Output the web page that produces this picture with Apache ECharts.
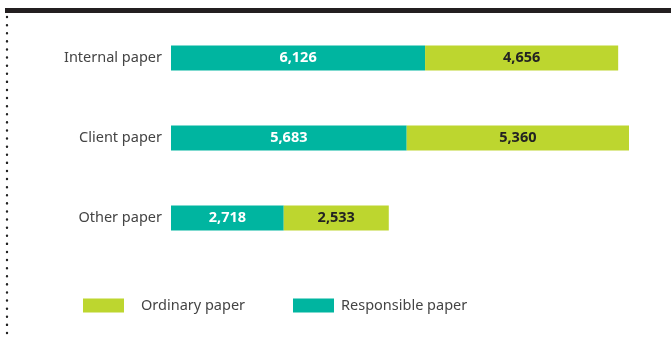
<!DOCTYPE html>
<html>
<head>
<meta charset="utf-8">
<script src="https://cdn.jsdelivr.net/npm/echarts@6/dist/echarts.min.js"></script>
<style>
  html, body { margin: 0; padding: 0; background: #fff; }
  #chart { width: 671px; height: 337px; }
</style>
</head>
<body>
<div id="chart"></div>
<script>
// Paper usage by category, split into responsible and ordinary paper
const categories = ['Internal paper', 'Client paper', 'Other paper'];
const responsibleValues = [6126, 5683, 2718];
const ordinaryValues = [4656, 5360, 2533];
const seriesNames = ['Responsible paper', 'Ordinary paper'];

const TEAL = '#00B5A0';
const LIME = '#BDD62F';
const FONT = '"Noto Sans", "Open Sans", sans-serif';

const chart = echarts.init(document.getElementById('chart'));

chart.setOption({
  animation: false,
  grid: { left: 171, right: 42, top: 18, height: 240 },
  xAxis: {
    type: 'value',
    min: 0,
    max: 11043,
    show: false
  },
  yAxis: {
    type: 'category',
    data: categories,
    inverse: true,
    axisLine: { show: false },
    axisTick: { show: false },
    axisLabel: {
      margin: 9,
      color: '#444',
      fontFamily: FONT,
      fontSize: 14.5
    }
  },
  legend: [
    {
      left: 83,
      top: 298,
      padding: 0,
      data: [seriesNames[1]],
      itemWidth: 41,
      itemHeight: 14,
      icon: 'rect',
      textStyle: { color: '#444', fontFamily: FONT, fontSize: 14.5, padding: [0, 0, 0, 12] }
    },
    {
      left: 293,
      top: 298,
      padding: 0,
      data: [seriesNames[0]],
      itemWidth: 41,
      itemHeight: 14,
      icon: 'rect',
      textStyle: { color: '#444', fontFamily: FONT, fontSize: 14.5, padding: [0, 0, 0, 2] }
    }
  ],
  graphic: [
    {
      type: 'rect',
      shape: { x: 5, y: 8, width: 666, height: 5 },
      style: { fill: '#231F20' },
      silent: true
    },
    {
      type: 'line',
      shape: { x1: 7, y1: 17, x2: 7, y2: 337 },
      style: { stroke: '#222', lineWidth: 2.4, lineDash: [0.1, 8], lineCap: 'round' },
      silent: true
    }
  ],
  series: [
    {
      name: seriesNames[0],
      type: 'bar',
      stack: 'paper',
      data: responsibleValues,
      barWidth: 25,
      itemStyle: { color: TEAL },
      label: {
        show: true,
        position: 'inside',
        color: '#fff',
        fontFamily: FONT,
        fontWeight: 'bold',
        fontSize: 14.5,
        formatter: p => p.value.toLocaleString('en-US')
      }
    },
    {
      name: seriesNames[1],
      type: 'bar',
      stack: 'paper',
      data: ordinaryValues,
      barWidth: 25,
      itemStyle: { color: LIME },
      label: {
        show: true,
        position: 'inside',
        color: '#222',
        fontFamily: FONT,
        fontWeight: 'bold',
        fontSize: 14.5,
        formatter: p => p.value.toLocaleString('en-US')
      }
    }
  ]
});
</script>
</body>
</html>
